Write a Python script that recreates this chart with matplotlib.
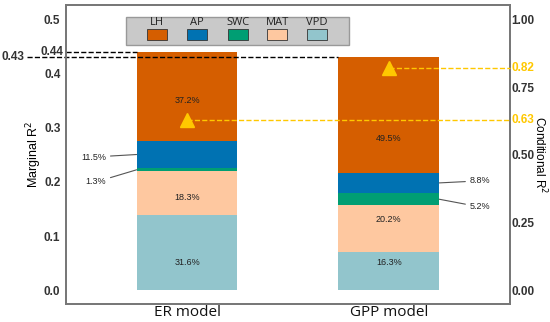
import matplotlib
matplotlib.use("Agg")
import matplotlib.pyplot as plt
from matplotlib.patches import Rectangle
import matplotlib.transforms as mtransforms
import numpy as np

models = ["ER model", "GPP model"]
factors = ["LH", "AP", "SWC", "MAT", "VPD"]
colors = {"LH": "#D55E00", "AP": "#0072B2", "SWC": "#009E73", "MAT": "#FEC8A0", "VPD": "#92C5CC"}
marginal_r2 = [0.44, 0.43]
conditional_r2 = [0.63, 0.82]
shares = {  # percent of marginal R2
    "LH": [37.2, 49.5],
    "AP": [11.5, 8.8],
    "SWC": [1.3, 5.2],
    "MAT": [18.3, 20.2],
    "VPD": [31.6, 16.3],
}
stack_order = ["VPD", "MAT", "SWC", "AP", "LH"]

plt.rcParams["font.family"] = ["Liberation Sans", "DejaVu Sans"]
fig = plt.figure(figsize=(5.5, 3.22), dpi=100)
ax = fig.add_axes([0.12, 0.056, 0.807, 0.928])
ax2 = ax.twinx()

x = np.arange(len(models))
width = 0.5
bottom = np.zeros(len(models))
seg = {}
for f in stack_order:
    vals = np.array(shares[f]) / 100.0 * np.array(marginal_r2)
    ax.bar(x, vals, width, bottom=bottom, color=colors[f], zorder=2)
    seg[f] = (bottom.copy(), vals)
    bottom = bottom + vals

tick_fs = 8.5
ax.set_xlim(-0.6, 1.6)
ax.set_ylim(-0.025, 0.526)
ax2.set_ylim(-0.05, 1.052)
ax.set_yticks([0.0, 0.1, 0.2, 0.3, 0.4, 0.5])
ax.set_yticklabels(["0.0", "0.1", "0.2", "0.3", "0.4", "0.5"])
ax2.set_yticks([0.0, 0.25, 0.5, 0.75, 1.0])
ax2.set_yticklabels(["0.00", "0.25", "0.50", "0.75", "1.00"])
for a in (ax, ax2):
    a.tick_params(length=0, labelsize=tick_fs, labelcolor="#333333")
    for s in a.spines.values():
        s.set_color("#777777")
        s.set_linewidth(1.3)
for lbl in ax.get_yticklabels() + ax2.get_yticklabels():
    lbl.set_fontweight("bold")
ax.set_xticks(x)
ax.set_xticklabels(models, fontsize=11, family=["Open Sans", "DejaVu Sans"], color="#111111")
ax.tick_params(axis="y", pad=4)
ax2.tick_params(axis="y", pad=1)
ax.tick_params(axis="x", pad=1)

ax.set_ylabel("Marginal R$^2$", fontsize=9)
ax.yaxis.set_label_coords(-0.05, 0.5)
ax2.set_ylabel("Conditional R$^2$", fontsize=8.5, rotation=270, va="center")
ax2.yaxis.set_label_coords(1.069, 0.5)

# inside labels (manual positions as in reference)
inside = [
    (0, "LH", 0.351), (0, "MAT", 0.171), (0, "VPD", 0.051),
    (1, "LH", 0.281), (1, "MAT", 0.130), (1, "VPD", 0.051),
]
for i, f, yy in inside:
    ax.text(x[i], yy, f"{shares[f][i]}%", ha="center", va="center", fontsize=6.5,
            color="#222222", zorder=4)

# outside labels with leader lines
def mid(f, i):
    b, v = seg[f]
    return b[i] + v[i] / 2

outside = [
    (0, "AP", -0.40, 0.246, "right"),
    (0, "SWC", -0.40, 0.200, "right"),
    (1, "AP", 1.40, 0.202, "left"),
    (1, "SWC", 1.40, 0.154, "left"),
]
for i, f, tx, ty, ha in outside:
    edge = x[i] - width / 2 if ha == "right" else x[i] + width / 2
    ax.annotate(f"{shares[f][i]}%", xy=(edge, mid(f, i)), xytext=(tx, ty),
                ha=ha, va="center", fontsize=6.5, color="#222222",
                arrowprops=dict(arrowstyle="-", color="#555555", lw=0.8,
                                shrinkA=1, shrinkB=0), zorder=4)

# marginal R2 reference dashed lines
blend = mtransforms.blended_transform_factory(ax.transAxes, ax.transData)
ax.plot([-0.6, x[0] - width / 2], [marginal_r2[0]] * 2, ls="--", color="black",
        lw=1, clip_on=False, zorder=3)
ax.text(-0.007, marginal_r2[0], f"{marginal_r2[0]:.2f}", transform=blend, ha="right",
        va="center", fontsize=tick_fs, fontweight="bold", color="#333333")
ax.plot([-0.795, x[1] - width / 2], [marginal_r2[1]] * 2, ls="--", color="black",
        lw=1, clip_on=False, zorder=3)
ax.text(-0.093, marginal_r2[1], f"{marginal_r2[1]:.2f}", transform=blend, ha="right",
        va="center", fontsize=tick_fs, fontweight="bold", color="#333333")

# conditional R2 markers
gold = "#FFC800"
blend2 = mtransforms.blended_transform_factory(ax2.transAxes, ax2.transData)
for i in range(len(models)):
    ax2.plot([x[i], 1.6], [conditional_r2[i]] * 2, ls="--", color=gold, lw=1,
             clip_on=False, zorder=3)
    ax2.plot(x[i], conditional_r2[i], marker="^", ms=10, color=gold, zorder=5)
    ax2.text(1.003, conditional_r2[i], f"{conditional_r2[i]:.2f}", transform=blend2,
             ha="left", va="center", fontsize=tick_fs, fontweight="bold", color=gold)

# legend box with labels above patches
ax.add_patch(Rectangle((0.135, 0.866), 0.502, 0.094, transform=ax.transAxes,
                       facecolor="#C9C9C9", edgecolor="#999999", lw=1, zorder=6))
centers = [0.205, 0.295, 0.387, 0.476, 0.566]
for f, cx in zip(factors, centers):
    ax.add_patch(Rectangle((cx - 0.0225, 0.882), 0.045, 0.037, transform=ax.transAxes,
                           facecolor=colors[f], edgecolor="#333333", lw=0.6, zorder=7))
    ax.text(cx, 0.925, f, transform=ax.transAxes, ha="center", va="bottom",
            fontsize=8, family=["Open Sans", "DejaVu Sans"], color="#222222", zorder=7)

fig.savefig("out.png", dpi=100)
